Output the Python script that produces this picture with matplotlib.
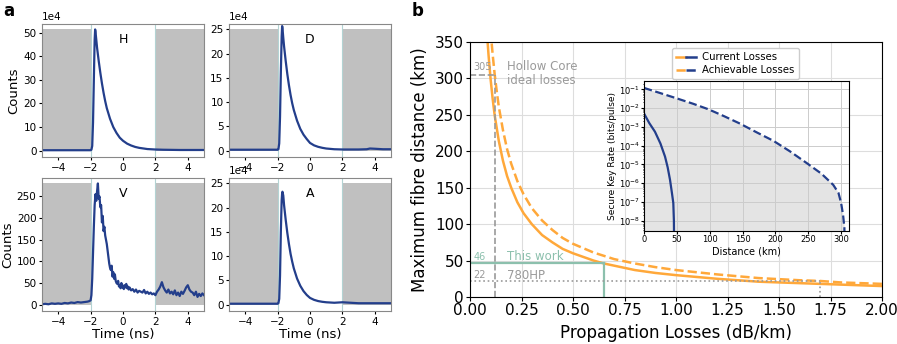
import numpy as np
import matplotlib
matplotlib.use("Agg")
import matplotlib.pyplot as plt
from matplotlib.lines import Line2D
from matplotlib.legend_handler import HandlerTuple

# ---------------------------------------------------------------
# Panel a: detector time histograms (counts in units of 1e4 for H, D, A)
# ---------------------------------------------------------------
t_fast = [-5, -2.0, -1.95, -1.9, -1.85, -1.8, -1.75, -1.72, -1.7, -1.65, -1.6, -1.5,
          -1.4, -1.3, -1.2, -1.1, -1.0, -0.8, -0.6, -0.4, -0.2, 0.0, 0.25, 0.5,
          0.75, 1.0, 1.5, 2.0, 2.5, 3.0, 3.5, 3.7, 4.0, 4.5, 5.0]
h_counts = [0.2, 0.2, 0.4, 2, 12, 30, 47, 51.3, 50.5, 47, 43.5, 38,
            33, 28.5, 24.5, 21, 18, 13.5, 10, 7.5, 5.5, 4.2, 3.0, 2.2,
            1.6, 1.2, 0.7, 0.5, 0.4, 0.35, 0.3, 0.3, 0.3, 0.3, 0.3]
d_counts = [0.2, 0.2, 0.3, 1.5, 7, 16, 23.5, 25.7, 25.3, 23.3, 21.5, 18.5,
            15.8, 13.5, 11.5, 9.8, 8.4, 6.2, 4.5, 3.3, 2.4, 1.6, 1.1, 0.8,
            0.6, 0.45, 0.3, 0.25, 0.25, 0.25, 0.3, 0.45, 0.4, 0.3, 0.3]
a_counts = [0.2, 0.2, 0.3, 1.2, 6, 15, 21.5, 23.0, 23.3, 22.5, 20.5, 17.5,
            14.8, 12.5, 10.5, 8.9, 7.5, 5.4, 3.9, 2.8, 2.0, 1.4, 1.0, 0.75,
            0.6, 0.5, 0.4, 0.5, 0.4, 0.3, 0.3, 0.3, 0.3, 0.3, 0.3]

t_v = [-5.0, -4.8, -4.6, -4.4, -4.2, -4.0, -3.8, -3.6, -3.4, -3.2, -3.0, -2.8, -2.6,
       -2.4, -2.2, -2.1, -2.0, -1.95, -1.9, -1.85, -1.8, -1.75, -1.7, -1.65, -1.6,
       -1.55, -1.5, -1.45, -1.4, -1.35, -1.3, -1.25, -1.2, -1.15, -1.1, -1.05, -1.0,
       -0.95, -0.9, -0.85, -0.8, -0.75, -0.7, -0.65, -0.6, -0.55, -0.5, -0.45, -0.4,
       -0.35, -0.3, -0.25, -0.2, -0.15, -0.1, -0.05, 0.0, 0.05, 0.1, 0.15, 0.2, 0.25,
       0.3, 0.35, 0.4, 0.5, 0.6, 0.7, 0.8, 0.9, 1.0, 1.1, 1.2, 1.3, 1.4, 1.5, 1.6,
       1.7, 1.8, 1.9, 2.0, 2.1, 2.2, 2.3, 2.4, 2.5, 2.6, 2.7, 2.8, 2.9, 3.0, 3.1,
       3.2, 3.3, 3.4, 3.5, 3.6, 3.7, 3.8, 3.9, 4.0, 4.1, 4.2, 4.3, 4.4, 4.5, 4.6,
       4.7, 4.8, 4.9, 5.0]
v_counts = [1, 2, 1, 3, 2, 3, 2, 4, 3, 5, 4, 6, 5,
            6, 7, 8, 10, 22, 60, 120, 180, 230, 255, 240, 262,
            280, 245, 250, 225, 230, 190, 205, 170, 180, 160, 150, 140,
            125, 110, 95, 85, 80, 90, 65, 75, 60, 70, 55, 50,
            48, 55, 42, 45, 38, 50, 40, 44, 36, 45, 40, 48, 38,
            42, 35, 40, 33, 36, 30, 35, 28, 32, 30, 28, 34, 26, 30, 25,
            28, 24, 26, 22, 30, 35, 42, 52, 40, 33, 28, 35, 26, 30, 24,
            33, 22, 28, 20, 30, 25, 32, 40, 45, 35, 30, 28, 22, 30, 18,
            25, 20, 26, 22]

labels_a = ["H", "D", "V", "A"]
shade_top = [51.3e4, 25e4, 280, 25e4]

# ---------------------------------------------------------------
# Panel b: maximum distance vs propagation losses
# ---------------------------------------------------------------
loss_current = [0.083, 0.09, 0.1, 0.11, 0.12, 0.14, 0.16, 0.18, 0.2, 0.23, 0.26, 0.3,
                0.35, 0.4, 0.45, 0.5, 0.6, 0.65, 0.7, 0.8, 0.9, 1.0, 1.2, 1.4, 1.6,
                1.8, 2.0]
dist_current = [360, 332, 299, 272, 249, 214, 187, 166, 150, 130, 115, 100,
                85, 75, 66, 60, 50, 46, 43, 37, 33, 30, 25, 21, 19, 17, 15]
loss_achievable = [0.1, 0.105, 0.11, 0.12, 0.13, 0.14, 0.16, 0.18, 0.2, 0.23, 0.26,
                   0.3, 0.35, 0.4, 0.45, 0.5, 0.6, 0.7, 0.8, 0.9, 1.0, 1.2, 1.4,
                   1.6, 1.7, 1.8, 2.0]
dist_achievable = [366, 349, 333, 305, 282, 261, 229, 203, 183, 159, 141,
                   122, 105, 92, 81, 73, 61, 52, 46, 41, 37, 31, 26,
                   23, 22, 20, 18]

hollow_loss, hollow_dist = 0.12, 305
this_loss, this_dist = 0.65, 46
hp_loss, hp_dist = 1.7, 22

# inset: secure key rate vs distance
km_current = [0, 8, 16.7, 25, 32, 36, 39.6, 42.5, 44.6, 45.5, 46]
skr_current = [5.2e-3, 1.6e-3, 5.5e-4, 1.3e-4, 2.6e-5, 7e-6, 1.5e-6, 3e-7, 8.7e-8,
               1e-8, 1e-10]
km_achievable = [0, 25, 50, 75, 98, 122, 146, 172, 197, 222, 248, 270, 288, 296,
                 300, 303, 305, 305.5]
skr_achievable = [1.2e-1, 6.3e-2, 3.3e-2, 1.7e-2, 8.7e-3, 3.7e-3, 1.5e-3, 5.0e-4,
                  1.8e-4, 5.0e-5, 1.15e-5, 3.2e-6, 8.1e-7, 3.0e-7, 8.7e-8, 2.0e-8,
                  4.0e-9, 1e-10]

navy = "#233e8b"
orange = "#ffa83a"
teal = "#8cc0ad"
grey_txt = "#9a9a9a"

W, H = 897, 344
fig = plt.figure(figsize=(W / 100, H / 100), dpi=100)


def box(l, t, r, b):
    return [l / W, 1 - b / H, (r - l) / W, (b - t) / H]


pos_a = [box(42, 24, 204, 157), box(229, 24, 391, 157),
         box(42, 178, 204, 311), box(229, 178, 391, 311)]
traces = [(t_fast, np.array(h_counts) * 1e4), (t_fast, np.array(d_counts) * 1e4),
          (t_v, v_counts), (t_fast, np.array(a_counts) * 1e4)]

for i, (p, (tt, cc)) in enumerate(zip(pos_a, traces)):
    ax = fig.add_axes(p)
    top = shade_top[i]
    ax.fill_between([-5, -2], 0, top, color="#c0c0c0", lw=0)
    ax.fill_between([2, 5], 0, top, color="#c0c0c0", lw=0)
    ax.axvline(-2, color="#b3d3d3", lw=0.8)
    ax.axvline(2, color="#b3d3d3", lw=0.8)
    ax.plot(tt, cc, color=navy, lw=1.6)
    ax.set_xlim(-5, 5)
    ax.set_ylim(-0.05 * top * 1.04, top * 1.045)
    ax.set_xticks([-4, -2, 0, 2, 4])
    ax.tick_params(labelsize=7.5, length=2.5, pad=1.5)
    if i == 2:
        ax.set_yticks([0, 50, 100, 150, 200, 250])
    else:
        ax.ticklabel_format(axis="y", style="sci", scilimits=(4, 4))
        ax.yaxis.get_offset_text().set_fontsize(7.5)
    if i in (0, 2):
        ax.set_ylabel("Counts", fontsize=9.5, labelpad=2)
    if i in (2, 3):
        ax.set_xlabel("Time (ns)", fontsize=9.5, labelpad=1)
    ax.text(0.5, 0.88, labels_a[i], transform=ax.transAxes, ha="center",
            va="center", fontsize=9)
    for s in ax.spines.values():
        s.set_color("#888888")

fig.text(3 / W, 1 - 11 / H, "a", fontsize=12, fontweight="bold", va="center")
fig.text(412 / W, 1 - 11 / H, "b", fontsize=12, fontweight="bold", va="center")

# main panel b
axb = fig.add_axes(box(470, 42, 882, 297))
axb.grid(True, color="#dddddd", lw=0.8)
axb.set_axisbelow(True)
axb.plot(loss_current, dist_current, color=orange, lw=1.8)
axb.plot(loss_achievable, dist_achievable, color=orange, lw=1.8, ls="--")

axb.plot([0, hollow_loss], [hollow_dist, hollow_dist], color="#999999", lw=1.2, ls="--")
axb.plot([hollow_loss, hollow_loss], [0, hollow_dist], color="#999999", lw=1.2, ls="--")
axb.plot([0, this_loss], [this_dist, this_dist], color=teal, lw=1.6)
axb.plot([this_loss, this_loss], [0, this_dist], color=teal, lw=1.6)
axb.plot([0, hp_loss], [hp_dist, hp_dist], color="#999999", lw=1.2, ls=":")
axb.plot([hp_loss, hp_loss], [0, hp_dist], color="#999999", lw=1.2, ls=":")

axb.text(0.015, hollow_dist + 10, str(hollow_dist), fontsize=7, color=grey_txt, va="center")
axb.text(0.18, hollow_dist + 2, "Hollow Core\nideal losses", fontsize=8.5,
         color=grey_txt, va="center", linespacing=1.1)
axb.text(0.015, this_dist + 9, str(this_dist), fontsize=7, color=teal, va="center")
axb.text(0.18, this_dist + 9, "This work", fontsize=8.5, color=teal, va="center")
axb.text(0.015, hp_dist + 8, str(hp_dist), fontsize=7, color=grey_txt, va="center")
axb.text(0.18, hp_dist + 8, "780HP", fontsize=8.5, color=grey_txt, va="center")

axb.set_xlim(0, 2)
axb.set_ylim(0, 350)
axb.set_xticks([0, 0.25, 0.5, 0.75, 1.0, 1.25, 1.5, 1.75, 2.0])
axb.set_xticklabels(["0.00", "0.25", "0.50", "0.75", "1.00", "1.25", "1.50", "1.75", "2.00"])
axb.set_yticks(range(0, 351, 50))
axb.tick_params(labelsize=11, length=3, pad=1.5)
axb.set_xlabel("Propagation Losses (dB/km)", fontsize=12, labelpad=4)
axb.set_ylabel("Maximum fibre distance (km)", fontsize=12, labelpad=4)

# inset
axi = fig.add_axes(box(644, 81, 849, 231))
axi.fill_between(km_achievable, skr_achievable, 1e-12, color="#e4e4e4", lw=0)
axi.plot(km_current, skr_current, color=navy, lw=1.6)
axi.plot(km_achievable, skr_achievable, color=navy, lw=1.6, ls="--")
axi.set_yscale("log")
axi.set_xlim(0, 312)
axi.set_ylim(2.8e-9, 0.28)
axi.set_yticks([10.0 ** k for k in range(-8, 0)])
axi.set_xticks([0, 50, 100, 150, 200, 250, 300])
axi.grid(True, color="#cccccc", lw=0.7)
axi.tick_params(labelsize=6, length=2, pad=1)
axi.tick_params(which="minor", length=1)
axi.set_xlabel("Distance (km)", fontsize=7, labelpad=2)
axi.set_ylabel("Secure Key Rate (bits/pulse)", fontsize=6.5, labelpad=1)

# legend with split orange/navy handles
h1 = (Line2D([], [], color=orange, lw=1.8), Line2D([], [], color=navy, lw=1.8))
h2 = (Line2D([], [], color=orange, lw=1.8, ls="--"), Line2D([], [], color=navy, lw=1.8, ls="--"))
fig.legend([h1, h2], ["Current Losses", "Achievable Losses"],
           handler_map={tuple: HandlerTuple(ndivide=None, pad=0)},
           loc="upper left", bbox_to_anchor=(667 / W, 1 - 43 / H),
           fontsize=7.3, handlelength=2.0, handletextpad=0.6, borderpad=0.4,
           labelspacing=0.3, framealpha=1)

fig.savefig("out.png", dpi=100)
